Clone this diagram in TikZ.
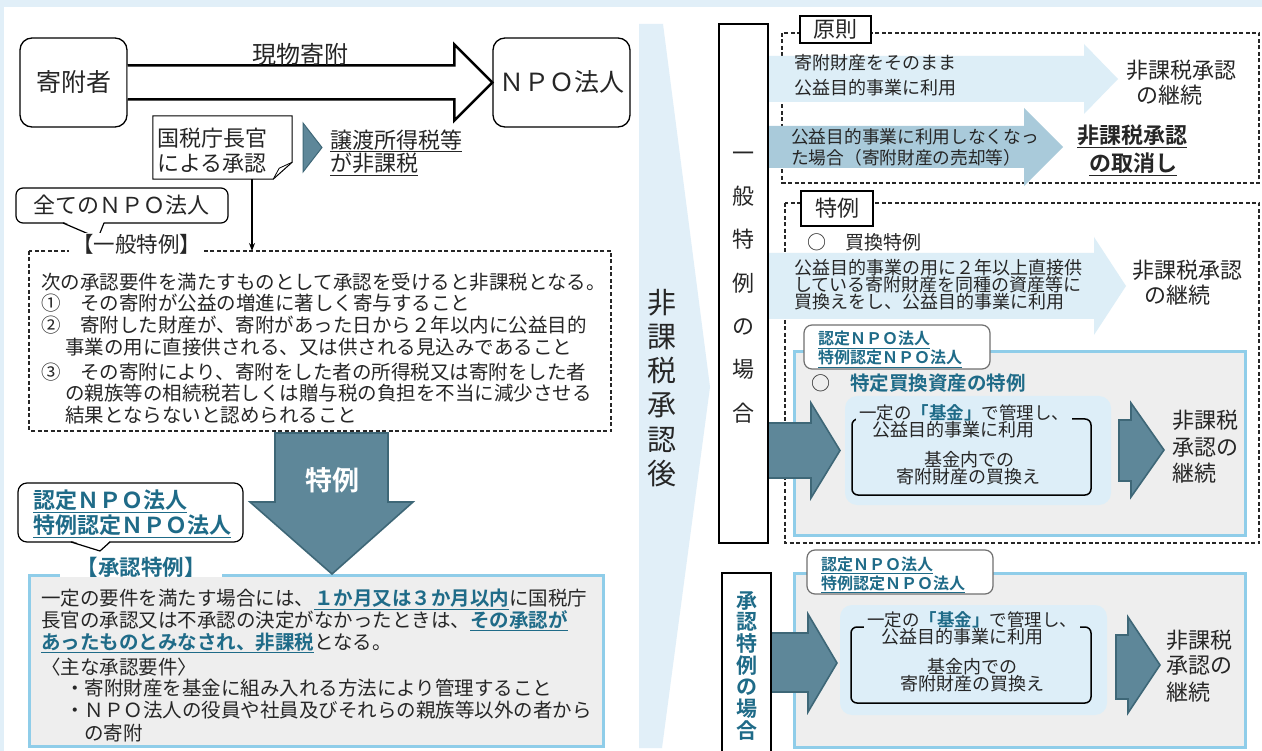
\documentclass[tikz,border=0pt]{standalone}
\usepackage{fontspec}
\setmainfont{Noto Sans CJK JP}[BoldFont={Noto Sans CJK JP Bold}]
\usetikzlibrary{calc,arrows.meta}
\definecolor{frameblue}{HTML}{E1EFF8}
\definecolor{lightarrow}{HTML}{DDEEF7}
\definecolor{midarrow}{HTML}{A9CADA}
\definecolor{darkfill}{HTML}{5E8799}
\definecolor{darkedge}{HTML}{3E6777}
\definecolor{tealtxt}{HTML}{1F6B88}
\definecolor{boxblue}{HTML}{8FCDE9}
\definecolor{boxgray}{HTML}{EEEEEE}
\definecolor{innerblue}{HTML}{DDEEF8}
\definecolor{txtcol}{HTML}{262626}
\definecolor{taggray}{HTML}{707070}
\newcommand{\fsz}[1]{\fontsize{#1}{#1}\selectfont}
\newcommand{\tealul}[1]{\textcolor{tealtxt}{\bfseries\underline{#1}}}
\newcommand{\tealbf}[1]{\textcolor{tealtxt}{\bfseries #1}}
\begin{document}
\begin{tikzpicture}[x=1pt,y=-1pt,
  every node/.style={inner sep=0pt, text=txtcol},
  tx/.style={anchor=base west},
  tc/.style={anchor=base},
  roundbox/.style={draw, line width=1.3pt, rounded corners=12pt, fill=white},
  dbox/.style={draw=black!85, line width=1.1pt, dash pattern=on 4pt off 2.5pt},
  darkarrow/.style={fill=darkfill, draw=darkedge, line width=1.6pt, line join=miter},
  bluebox/.style={draw=boxblue, line width=3pt, fill=boxgray},
  tagbox/.style={draw=taggray, line width=1.2pt, fill=white, rounded corners=8pt, minimum width=186pt, minimum height=44pt},
  labbox/.style={draw, line width=1.2pt, fill=white, font=\fsz{22}}]
\useasboundingbox (0,0) rectangle (1262,751);
\fill[white] (0,0) rectangle (1262,751);
\fill[frameblue] (0,0) rectangle (1262,7);
\fill[frameblue] (0,0) rectangle (4,751);
% central chevron
\fill[frameblue] (639,24) -- (663,24) -- (710,387) -- (662,748) -- (639,748) -- cycle;
\foreach \c [count=\i] in {非,課,税,承,認,後}
  \node[tc, font=\fsz{29}] (after\i) at (662,{314+34*(\i-1)}) {\c};

% ---------------- left panel ----------------
\node[roundbox, minimum width=107pt, minimum height=89pt, font=\fsz{25}] (giver) at (73.5,82.5) {寄附者};
\node[roundbox, minimum width=137pt, minimum height=89pt, font=\fsz{25}] (npo) at (561.5,82.5) {ＮＰＯ法人};
\draw[line width=2.5pt, line join=miter, fill=white]
  ($(giver.east)+(0,-17)$) -| ($(npo.west)+(-38,-38)$) -- (npo.west)
  -- ($(npo.west)+(-38,38)$) |- ($(giver.east)+(0,17)$);
\node[tc, font=\fsz{24}] (gift) at (300,64) {現物寄附};

% NTA callout
\node[minimum width=139pt, minimum height=63pt] (nta) at (222.5,147.5) {};
\draw[line width=1pt, fill=white] (nta.north west) -- (nta.north east)
  -- ($(nta.south east)+(0,-17)$) -- ($(nta.south east)+(-19,0)$) -- (nta.south west) -- cycle;
\draw[line width=0.8pt] ($(nta.south east)+(-19,0)$) -- ($(nta.south east)+(-13,-11)$) -- ($(nta.south east)+(0,-17)$);
\node[tx, font=\fsz{22}] (nta1) at (157,146.4) {国税庁長官};
\node[tx, font=\fsz{22}] (nta2) at (157,171.4) {による承認};
\filldraw[fill=darkfill, draw=darkedge, line width=1pt] (303,123) -- (322,147.5) -- (303,172) -- cycle;
\node[tx, font=\fsz{22}] (exempt1) at (330,148.4) {\underline{譲渡所得税等}};
\node[tx, font=\fsz{22}] (exempt2) at (330,171.4) {\underline{が非課税}};

% all NPO callout
\draw[line width=1.2pt, rounded corners=7pt, fill=white] (16,188) rectangle (228,223);
\fill[white] (63,221.5) -- (98,238) -- (104,221.5) -- cycle;
\draw[line width=1.2pt, line join=round] (63,223) -- (98,238) -- (104,223);
\node[tc, font=\fsz{22}] (allnpo) at (122,214) {全てのＮＰＯ法人};

% general special case box
\draw[dbox] (29,251) rectangle (611,431);
\coordinate (gtop) at (252,251);
\draw[line width=1.8pt, -{Stealth[length=8pt,width=6pt]}] (nta.south -| gtop) -- (gtop);
\node[tc, fill=white, inner xsep=3pt, inner ysep=2pt, font=\fsz{21.5}] (gentitle) at (136.5,253) {【一般特例】};
\node[tx, font=\fsz{19.5}] (g1) at (41,289.4) {次の承認要件を満たすものとして承認を受けると非課税となる。};
\node[tx, font=\fsz{19.5}] (g2) at (41,310.7) {①　その寄附が公益の増進に著しく寄与すること};
\node[tx, font=\fsz{19.5}] (g3) at (41,332.4) {②　寄附した財産が、寄附があった日から２年以内に公益目的};
\node[tx, font=\fsz{19.5}] (g4) at (65,354.1) {事業の用に直接供される、又は供される見込みであること};
\node[tx, font=\fsz{19.5}] (g5) at (41,379.1) {③　その寄附により、寄附をした者の所得税又は寄附をした者};
\node[tx, font=\fsz{19.5}] (g6) at (65,400.7) {の親族等の相続税若しくは贈与税の負担を不当に減少させる};
\node[tx, font=\fsz{19.5}] (g7) at (65,422.4) {結果とならないと認められること};

% approval special case box
\draw[bluebox] (29,575) rectangle (603,746);
\fill[white] (60,552) rectangle (222,577);
\node[tc, font=\fsz{21.5}] (apptitle) at (141,575.5) {\tealbf{【承認特例】}};
\node[tx, font=\fsz{19.5}] (s1) at (41,605.7) {一定の要件を満たす場合には、\tealul{１か月又は３か月以内}に国税庁};
\node[tx, font=\fsz{19.5}] (s2) at (41,627.4) {長官の承認又は不承認の決定がなかったときは、\tealul{その承認が}};
\node[tx, font=\fsz{19.5}] (s3) at (41,649.1) {\tealul{あったものとみなされ、非課税}となる。};
\node[tx, font=\fsz{19.5}] (s4) at (41,674.1) {〈主な承認要件〉};
\node[tx, font=\fsz{19.5}] (s5) at (65,695.7) {・寄附財産を基金に組み入れる方法により管理すること};
\node[tx, font=\fsz{19.5}] (s6) at (65,717.4) {・ＮＰＯ法人の役員や社員及びそれらの親族等以外の者から};
\node[tx, font=\fsz{19.5}] (s7) at (84,740.7) {の寄附};

% certified NPO callout (left)
\draw[line width=1.2pt, rounded corners=9pt, fill=white] (18,483) rectangle (243,542);
\fill[white] (71,540.5) -- (100,551) -- (110,540.5) -- cycle;
\draw[line width=1.2pt, line join=round] (71,542) -- (100,551) -- (110,542);
\node[tx, font=\fsz{22}] (lnpo1) at (33,508.4) {\tealul{認定ＮＰＯ法人}};
\node[tx, font=\fsz{22}] (lnpo2) at (33,533.4) {\tealul{特例認定ＮＰＯ法人}};

% big down arrow
\filldraw[darkarrow] (275,433) -- (388,433) -- (388,502) -- (413,502) -- (332,574) -- (250,502) -- (275,502) -- cycle;
\node[tc, font=\fsz{27}\bfseries, text=white] (tokurei) at (332,490) {特例};

% ---------------- right panel ----------------
\draw[dbox] (782,33) rectangle (1259,183);
\draw[dbox] (785,203) rectangle (1259,543);

% principle arrows
\fill[lightarrow] (768,56) -- (1084,56) -- (1084,44) -- (1118,79) -- (1084,114) -- (1084,102) -- (768,102) -- cycle;
\fill[midarrow] (768,126) -- (1024,126) -- (1024,108) -- (1063,147) -- (1024,186) -- (1024,168) -- (768,168) -- cycle;
\node[labbox, minimum width=71pt, minimum height=27pt] (prin) at (835.5,29.5) {原則};
\node[tx, font=\fsz{18}] (a1t1) at (794,69.8) {寄附財産をそのまま};
\node[tx, font=\fsz{18}] (a1t2) at (794,94.8) {公益目的事業に利用};
\node[tx, font=\fsz{22}] (r1a) at (1126,78.4) {非課税承認};
\node[tx, font=\fsz{22}] (r1b) at (1136,103.4) {の継続};
\node[tx, font=\fsz{17.7}] (a2t1) at (791,143.7) {公益目的事業に利用しなくなっ};
\node[tx, font=\fsz{17.7}] (a2t2) at (791,164.7) {た場合（寄附財産の売却等）};
\node[tx, font=\fsz{22}\bfseries] (r2a) at (1077,143.4) {\underline{非課税承認}};
\node[tx, font=\fsz{22}\bfseries] (r2b) at (1089,171.4) {\underline{の取消し}};

% special case
\node[labbox, minimum width=72pt, minimum height=35pt] (spec) at (837,208.5) {特例};
\node[tx, font=\fsz{19}] (kaikae) at (807,249.2) {○　買換特例};
\fill[lightarrow] (768,253) -- (1094,253) -- (1094,237) -- (1126,286) -- (1094,335) -- (1094,319) -- (768,319) -- cycle;
\node[tx, font=\fsz{18}] (a3t1) at (794,274.7) {公益目的事業の用に２年以上直接供};
\node[tx, font=\fsz{18}] (a3t2) at (794,291.7) {している寄附財産を同種の資産等に};
\node[tx, font=\fsz{18}] (a3t3) at (794,308.7) {買換えをし、公益目的事業に利用};
\node[tx, font=\fsz{22}] (r3a) at (1132,278.4) {非課税承認};
\node[tx, font=\fsz{22}] (r3b) at (1144,303.4) {の継続};

% specific replacement asset box
\draw[bluebox] (794,352) rectangle (1245,535);
\node[tagbox] (tagA) at (897,347) {};
\node[tx, font=\fsz{16}] (tagA1) at (818,345) {\tealul{認定ＮＰＯ法人}};
\node[tx, font=\fsz{16}] (tagA2) at (818,364) {\tealul{特例認定ＮＰＯ法人}};
\node[tx, font=\fsz{19}] (circA) at (811,390.2) {○};
\node[tx, font=\fsz{19.5}] (titleA) at (850,390.4) {\tealbf{特定買換資産の特例}};
\filldraw[darkarrow] (768,423) -- (811,423) -- (811,403) -- (840,450.5) -- (811,498) -- (811,478) -- (768,478) -- cycle;
\fill[innerblue, rounded corners=12pt] (845,396) rectangle (1111,505);
\draw[line width=1.5pt, rounded corners=6pt] (852,419) rectangle (1091,495);
\node[tc, fill=innerblue, inner xsep=3pt, inner ysep=1pt, font=\fsz{17.5}] (inA1) at (964,419.7) {一定の\tealbf{「基金」}で管理し、};
\node[tc, font=\fsz{18}] (inA2) at (953,436.7) {公益目的事業に利用};
\node[tc, font=\fsz{18}] (inA3) at (969,466.7) {基金内での};
\node[tc, font=\fsz{18}] (inA4) at (968,483.7) {寄附財産の買換え};
\filldraw[darkarrow] (1119,420) -- (1131,420) -- (1131,403) -- (1164,450) -- (1131,497) -- (1131,481) -- (1119,481) -- cycle;
\node[tx, font=\fsz{22}] (r4a) at (1172,428.4) {非課税};
\node[tx, font=\fsz{22}] (r4b) at (1172,455.4) {承認の};
\node[tx, font=\fsz{22}] (r4c) at (1172,481.4) {継続};

% general special vertical box
\draw[line width=1.5pt, fill=white] (719,24) rectangle (768,543);
\foreach \c [count=\i] in {一,般,特,例,の,場,合}
  \node[tc, font=\fsz{22}] (gv\i) at (743.5,{161.4+43.3*(\i-1)}) {\c};

% ---------------- approval special case (bottom right) ----------------
\draw[bluebox] (794,573) rectangle (1245,747);
\node[tagbox] (tagB) at (900,572) {};
\node[tx, font=\fsz{16}] (tagB1) at (821,570) {\tealul{認定ＮＰＯ法人}};
\node[tx, font=\fsz{16}] (tagB2) at (821,589) {\tealul{特例認定ＮＰＯ法人}};
\filldraw[darkarrow] (771,633) -- (808,633) -- (808,614) -- (837,663) -- (808,712) -- (808,692) -- (771,692) -- cycle;
\fill[innerblue, rounded corners=12pt] (840,605) rectangle (1107,715);
\draw[line width=1.5pt, rounded corners=6pt] (851,627) rectangle (1091,703);
\node[tc, fill=innerblue, inner xsep=3pt, inner ysep=1pt, font=\fsz{17.5}] (inB1) at (972,626.7) {一定の\tealbf{「基金」}で管理し、};
\node[tc, font=\fsz{18}] (inB2) at (962,643.7) {公益目的事業に利用};
\node[tc, font=\fsz{18}] (inB3) at (972,673.7) {基金内での};
\node[tc, font=\fsz{18}] (inB4) at (972,690.7) {寄附財産の買換え};
\filldraw[darkarrow] (1116,635) -- (1128,635) -- (1128,617) -- (1160,665) -- (1128,713) -- (1128,699) -- (1116,699) -- cycle;
\node[tx, font=\fsz{22}] (r5a) at (1166,648.4) {非課税};
\node[tx, font=\fsz{22}] (r5b) at (1166,673.4) {承認の};
\node[tx, font=\fsz{22}] (r5c) at (1166,700.4) {継続};
\draw[line width=1.5pt, fill=white] (722,573) rectangle (771,754);
\foreach \c [count=\i] in {承,認,特,例,の,場,合}
  \node[tc, font=\fsz{21}\bfseries, text=tealtxt] (av\i) at (746.5,{608+21.7*(\i-1)}) {\c};
\end{tikzpicture}
\end{document}
